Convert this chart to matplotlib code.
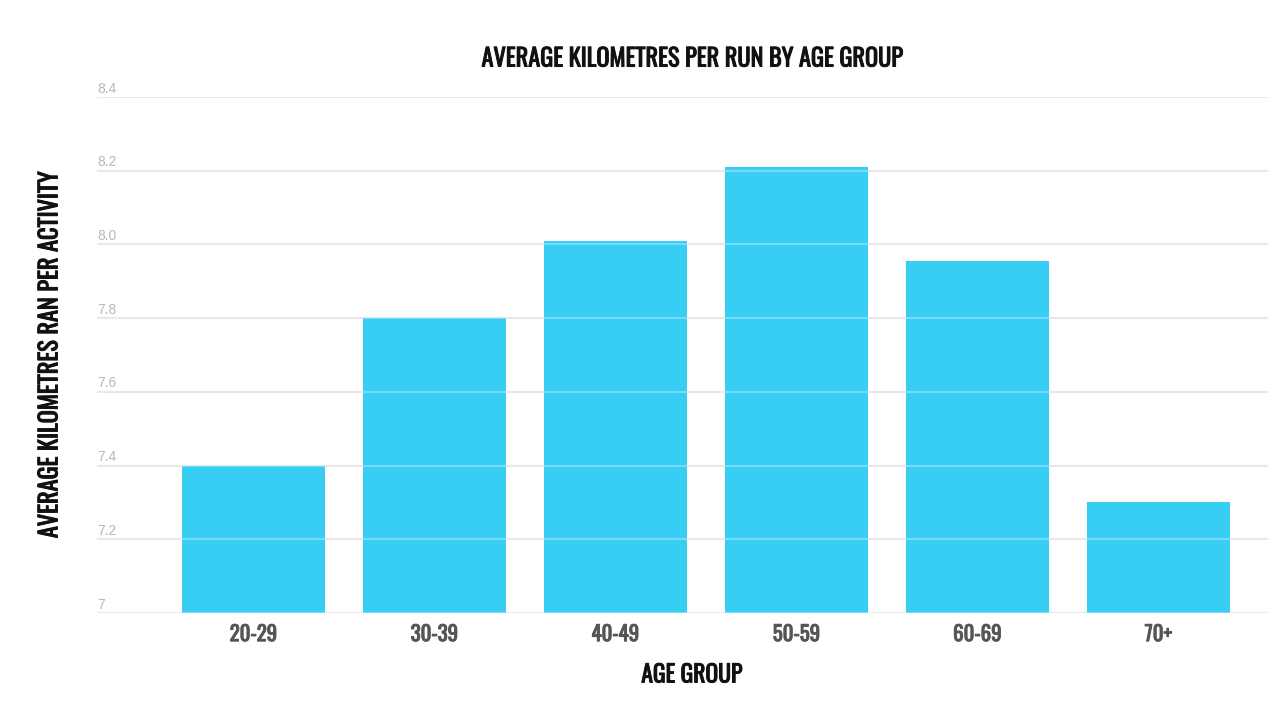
import matplotlib
matplotlib.use('Agg')
import matplotlib.pyplot as plt
import matplotlib.patheffects as pe
from matplotlib import font_manager

age_groups = ['20-29', '30-39', '40-49', '50-59', '60-69', '70+']
avg_km = [7.40, 7.80, 8.01, 8.21, 7.955, 7.30]
yticks = [7.0, 7.2, 7.4, 7.6, 7.8, 8.0, 8.2, 8.4]
ytick_labels = ['7', '7.2', '7.4', '7.6', '7.8', '8.0', '8.2', '8.4']

# pick a condensed face
names = {f.name for f in font_manager.fontManager.ttflist}
cond = 'DejaVu Sans'
for n in ['Oswald', 'Roboto Condensed', 'IBM Plex Sans Condensed', 'Open Sans Condensed']:
    if n in names:
        cond = n
        break

def heavy(c, w=0.7):
    # fake a heavier weight for the condensed face
    return [pe.withStroke(linewidth=w, foreground=c)]

fig = plt.figure(figsize=(12.8, 7.2), dpi=100)
ax = fig.add_axes([0.0758, 0.1486, 0.9148, 0.7167])

x = list(range(len(age_groups)))
ax.bar(x, [v - 7.0 for v in avg_km], bottom=7.0, width=0.79, color='#38cef4', zorder=2)

# gridlines: gray behind, faint white over bars
for t, lab in zip(yticks, ytick_labels):
    ax.axhline(t, color='#e0e0e0', lw=1.5, zorder=1)
    ax.axhline(t, color='white', lw=1.5, alpha=0.3, zorder=3)
    ax.text(-0.865, t + 0.004, lab, ha='left', va='bottom', fontsize=10,
            color='#b8b8b8', family='Liberation Sans')

ax.set_xlim(-0.865, 5.605)
ax.set_ylim(7.0, 8.4)
ax.set_yticks([])
ax.set_xticks(x)
ax.set_xticklabels(age_groups, family=cond, fontsize=15, color='#555555')
for lbl in ax.get_xticklabels():
    lbl.set_path_effects(heavy('#555555', 0.7))
ax.tick_params(axis='x', length=0, pad=8)
for s in ax.spines.values():
    s.set_visible(False)

ax.set_xlabel('AGE GROUP', family=cond, fontsize=17, color='#111111', va='center',
              path_effects=heavy('#111111'))
ax.xaxis.set_label_coords(0.508, -0.12)
fig.text(0.039, 0.507, 'AVERAGE KILOMETRES RAN PER ACTIVITY', rotation=90, ha='center', va='center',
         family=cond, fontsize=17.5, color='#111111', path_effects=heavy('#111111'))
fig.text(0.5406, 0.918, 'AVERAGE KILOMETRES PER RUN BY AGE GROUP', ha='center', va='center',
         family=cond, fontsize=17.5, color='#111111', path_effects=heavy('#111111'))

fig.savefig('out.png', dpi=100, facecolor='white')
